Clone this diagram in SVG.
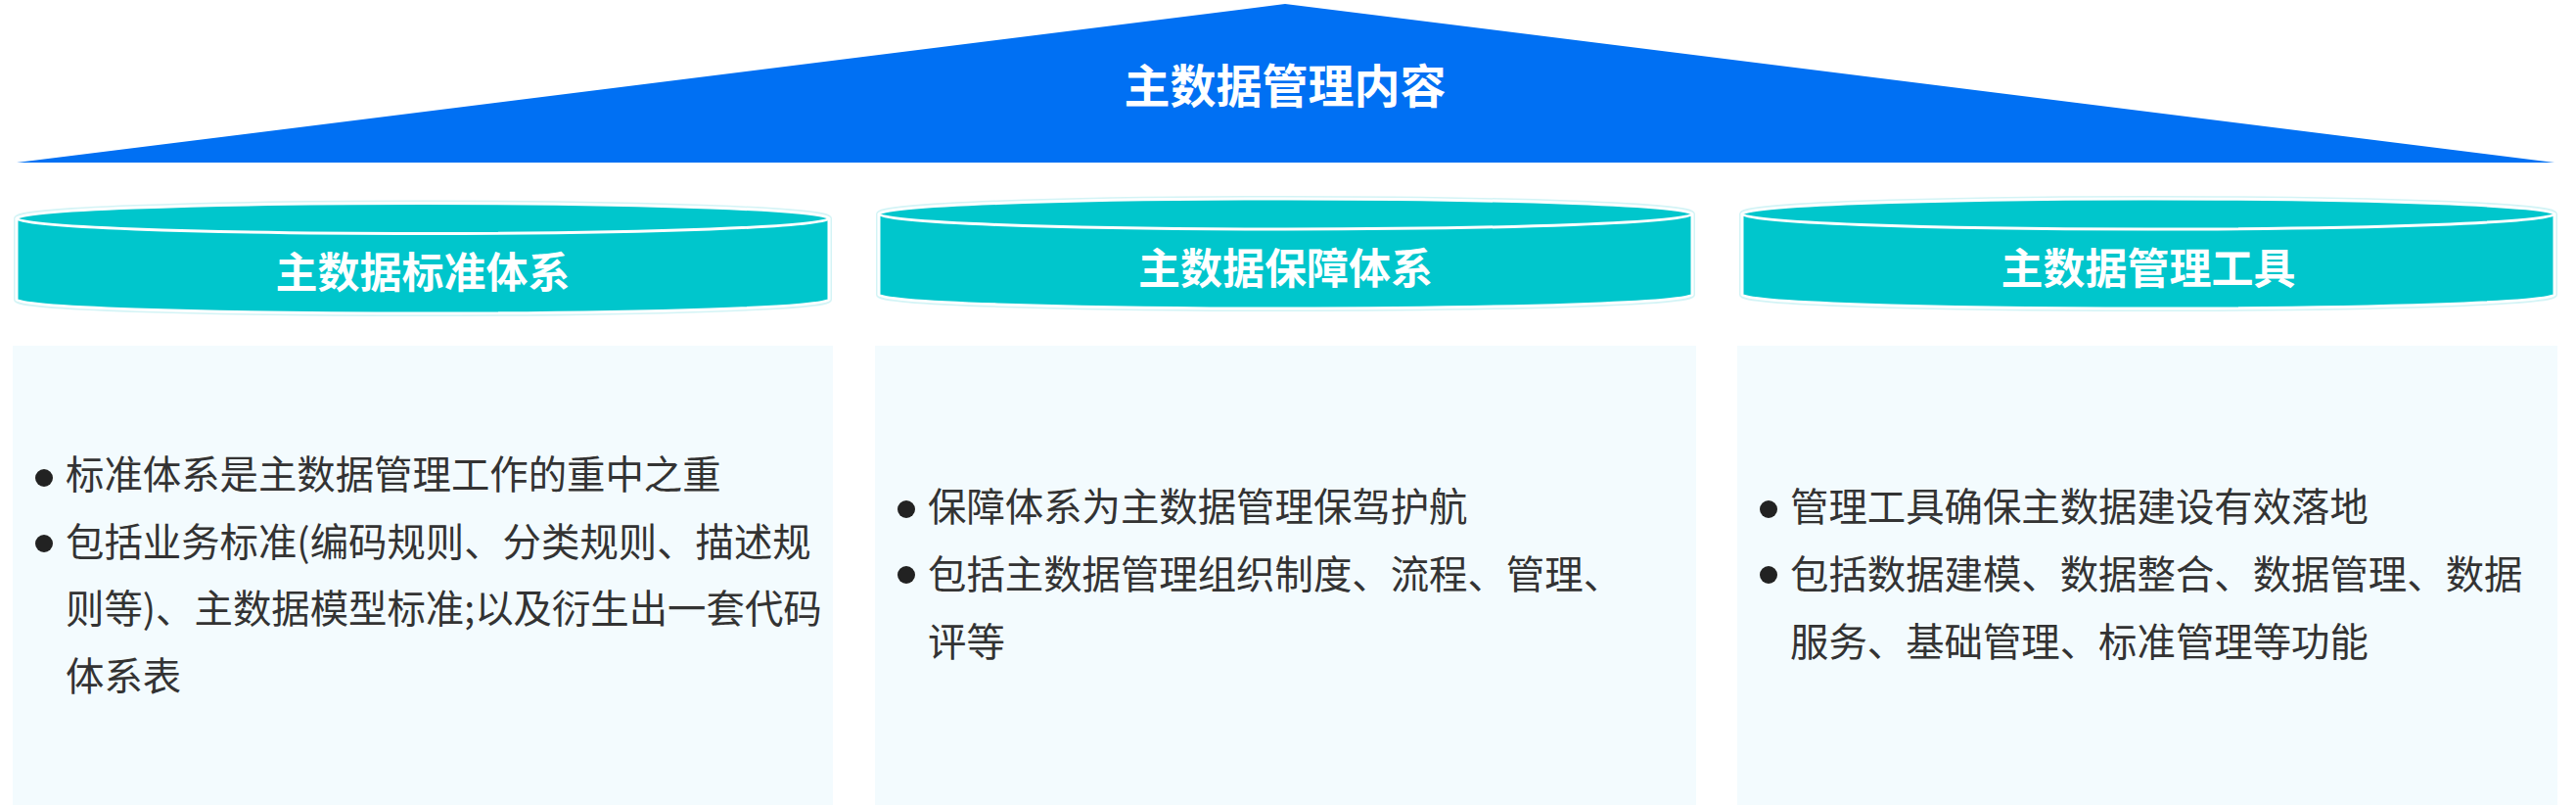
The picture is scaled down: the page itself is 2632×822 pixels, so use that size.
<svg xmlns="http://www.w3.org/2000/svg" width="2632" height="822" viewBox="0 0 2632 822">
  <defs>
    <style>
      .title { font-family: "Noto Sans CJK SC", "Noto Sans", sans-serif; font-weight: 700; fill: #ffffff; text-anchor: middle; }
      .cyl-body { fill: #00C6CC; }
      .cyl-halo { fill: none; stroke: #d3f4f6; stroke-width: 6; }
      .cyl-edge { fill: none; stroke: #ffffff; stroke-width: 3; }
      .cyl-sep { fill: none; stroke: #ffffff; stroke-width: 3; }
      .box { fill: #F3FBFE; }
      .body { font-family: "Noto Sans CJK SC", "Noto Sans", sans-serif; font-size: 39.4px; fill: #333333; }
      .bullet { fill: #222222; }
    </style>
  </defs>
  <rect width="2632" height="822" fill="#ffffff"/>

  <g id="top-triangle">
    <polygon points="17,166 1313,4 2610,166" fill="#0070F3"/>
    <text class="title" x="1313" y="104.5" font-size="47">主数据管理内容</text>
  </g>

  <g id="cylinder-1">
    <path class="cyl-halo" d="M17,223 A415,15.5 0 0 1 847,223 L847,306 A415,14 0 0 1 17,306 Z"/>
    <path class="cyl-body" d="M17,223 A415,15.5 0 0 1 847,223 L847,306 A415,14 0 0 1 17,306 Z"/>
    <path class="cyl-edge" d="M17,223 A415,15.5 0 0 1 847,223 L847,306 A415,14 0 0 1 17,306 Z"/>
    <path class="cyl-sep" d="M17,223 A415,15.5 0 0 0 847,223"/>
    <text class="title" x="432" y="293.5" font-size="43">主数据标准体系</text>
  </g>

  <g id="cylinder-2">
    <path class="cyl-halo" d="M898,218.5 A415.5,15.5 0 0 1 1729,218.5 L1729,301 A415.5,14 0 0 1 898,301 Z"/>
    <path class="cyl-body" d="M898,218.5 A415.5,15.5 0 0 1 1729,218.5 L1729,301 A415.5,14 0 0 1 898,301 Z"/>
    <path class="cyl-edge" d="M898,218.5 A415.5,15.5 0 0 1 1729,218.5 L1729,301 A415.5,14 0 0 1 898,301 Z"/>
    <path class="cyl-sep" d="M898,218.5 A415.5,15.5 0 0 0 1729,218.5"/>
    <text class="title" x="1313.5" y="290" font-size="43">主数据保障体系</text>
  </g>

  <g id="cylinder-3">
    <path class="cyl-halo" d="M1780,218.5 A415,15.5 0 0 1 2610,218.5 L2610,301 A415,14 0 0 1 1780,301 Z"/>
    <path class="cyl-body" d="M1780,218.5 A415,15.5 0 0 1 2610,218.5 L2610,301 A415,14 0 0 1 1780,301 Z"/>
    <path class="cyl-edge" d="M1780,218.5 A415,15.5 0 0 1 2610,218.5 L2610,301 A415,14 0 0 1 1780,301 Z"/>
    <path class="cyl-sep" d="M1780,218.5 A415,15.5 0 0 0 2610,218.5"/>
    <text class="title" x="2195" y="290" font-size="43">主数据管理工具</text>
  </g>

  <g id="box-1">
    <rect class="box" x="13" y="353" width="838" height="469"/>
    <circle class="bullet" cx="45" cy="488" r="9"/>
    <circle class="bullet" cx="45" cy="555" r="9"/>
    <text class="body" x="67" y="499">标准体系是主数据管理工作的重中之重</text>
    <text class="body" x="67" y="567.5">包括业务标准(编码规则、分类规则、描述规</text>
    <text class="body" x="67" y="636">则等)、主数据模型标准;以及衍生出一套代码</text>
    <text class="body" x="67" y="704.5">体系表</text>
  </g>

  <g id="box-2">
    <rect class="box" x="894" y="353" width="839" height="469"/>
    <circle class="bullet" cx="926" cy="520" r="9"/>
    <circle class="bullet" cx="926" cy="587" r="9"/>
    <text class="body" x="948" y="532">保障体系为主数据管理保驾护航</text>
    <text class="body" x="948" y="601">包括主数据管理组织制度、流程、管理、</text>
    <text class="body" x="948" y="670">评等</text>
  </g>

  <g id="box-3">
    <rect class="box" x="1775" y="353" width="838" height="469"/>
    <circle class="bullet" cx="1807" cy="520" r="9"/>
    <circle class="bullet" cx="1807" cy="587" r="9"/>
    <text class="body" x="1829" y="532">管理工具确保主数据建设有效落地</text>
    <text class="body" x="1829" y="601">包括数据建模、数据整合、数据管理、数据</text>
    <text class="body" x="1829" y="670">服务、基础管理、标准管理等功能</text>
  </g>

  <g id="connectors"></g>
</svg>
